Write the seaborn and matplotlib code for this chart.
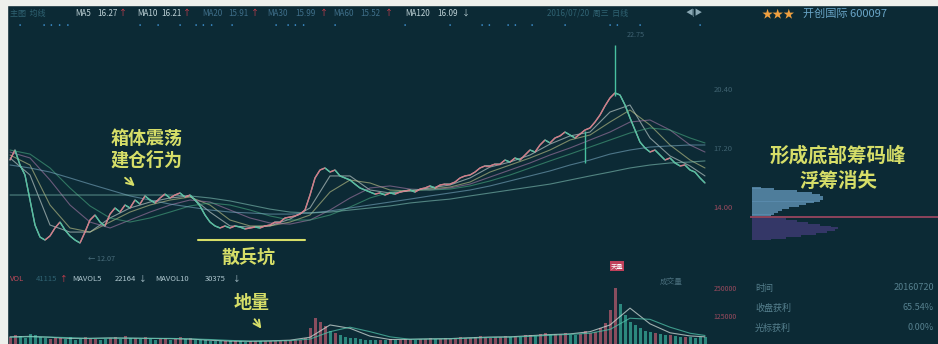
import numpy as np
import pandas as pd
import matplotlib
matplotlib.use("Agg")
import matplotlib.pyplot as plt
import seaborn as sns
from matplotlib.collections import LineCollection
from matplotlib.lines import Line2D
from matplotlib.patches import Rectangle

# ---------------- data ----------------
close = [16.54, 17.08, 16.27, 15.73, 14.38, 13.03, 12.38, 12.22, 12.44, 12.87,
         13.19, 12.76, 12.44, 12.22, 12.06, 12.65, 13.30, 13.57, 13.19, 12.98,
         13.62, 13.95, 13.73, 14.11, 13.95, 14.38, 14.16, 14.60, 14.38, 14.22,
         14.49, 14.70, 14.49, 14.65, 14.76, 14.54, 14.65, 14.38, 14.06, 13.57,
         13.19, 12.98, 12.87, 12.98, 12.87, 12.98, 12.92, 12.82, 12.87, 12.92,
         12.87, 12.98, 13.03, 13.19, 13.19, 13.41, 13.46, 13.52, 13.62, 13.84,
         14.65, 15.57, 16.00, 16.11, 15.89, 16.00, 15.68, 15.57, 15.46, 15.24,
         15.03, 14.92, 14.81, 14.70, 14.76, 14.65, 14.76, 14.70, 14.81, 14.87,
         14.92, 14.81, 14.97, 15.03, 15.14, 15.03, 15.19, 15.24, 15.24, 15.35,
         15.57, 15.68, 15.73, 15.89, 16.11, 16.22, 16.22, 16.32, 16.32, 16.54,
         16.43, 16.65, 16.54, 16.81, 17.08, 16.97, 17.35, 17.62, 17.46, 17.73,
         17.84, 18.05, 17.89, 17.73, 17.94, 18.16, 18.27, 18.59, 18.97, 19.46,
         19.89, 20.16, 20.05, 19.51, 18.81, 18.16, 17.51, 17.19, 16.97, 17.08,
         16.81, 16.54, 16.65, 16.38, 16.22, 16.27, 16.00, 15.89, 15.57, 15.30]
days = list(range(len(close)))

ma_days = list(range(0, 137, 4)) + [139]
ma5 = [16.65, 15.73, 13.03, 12.65, 12.65, 13.41, 13.95, 14.27, 14.49, 14.60,
       13.73, 12.98, 12.92, 12.98, 13.35, 13.95, 15.68, 15.68, 14.92, 14.76,
       14.87, 15.03, 15.19, 15.57, 16.16, 16.43, 16.81, 17.40, 17.84, 18.05,
       19.13, 19.51, 17.73, 16.76, 16.22, 15.68]
ma10 = [16.81, 16.27, 14.11, 12.87, 12.65, 13.19, 13.73, 14.11, 14.38, 14.54,
        14.11, 13.30, 12.98, 12.98, 13.19, 13.57, 14.81, 15.46, 15.30, 14.92,
        14.87, 14.97, 15.08, 15.35, 15.89, 16.27, 16.65, 17.08, 17.62, 17.89,
        18.59, 19.24, 18.43, 17.35, 16.54, 16.11]
ma20 = [16.97, 16.65, 15.46, 14.11, 13.19, 12.87, 13.30, 13.73, 14.11, 14.38,
        14.27, 13.84, 13.41, 13.14, 13.08, 13.30, 13.84, 14.49, 15.03, 15.14,
        14.97, 14.92, 15.03, 15.24, 15.62, 16.00, 16.38, 16.81, 17.19, 17.62,
        18.05, 18.59, 18.70, 18.16, 17.35, 16.97]
ma30 = [17.08, 16.86, 16.11, 15.03, 14.06, 13.41, 13.19, 13.41, 13.73, 14.06,
        14.22, 14.11, 13.84, 13.52, 13.30, 13.30, 13.57, 14.00, 14.49, 14.81,
        14.92, 14.92, 14.97, 15.14, 15.41, 15.73, 16.11, 16.49, 16.86, 17.24,
        17.62, 18.00, 18.27, 18.16, 17.73, 17.46]
ma60 = [16.27, 16.11, 15.89, 15.57, 15.24, 14.92, 14.60, 14.38, 14.16, 14.00,
        13.84, 13.73, 13.68, 13.62, 13.62, 13.68, 13.79, 13.95, 14.11, 14.27,
        14.43, 14.60, 14.76, 14.92, 15.14, 15.41, 15.68, 15.95, 16.27, 16.54,
        16.86, 17.08, 17.24, 17.30, 17.35, 17.35]
ma120 = [14.65, 14.65, 14.65, 14.65, 14.65, 14.65, 14.65, 14.65, 14.65, 14.60,
         14.49, 14.33, 14.11, 13.89, 13.73, 13.68, 13.73, 13.84, 13.95, 14.06,
         14.22, 14.33, 14.43, 14.60, 14.76, 14.92, 15.08, 15.24, 15.46, 15.68,
         15.89, 16.11, 16.27, 16.38, 16.43, 16.49]

wick_days = [115, 121]
wick_lo = [16.40, 20.00]
wick_hi = [18.10, 22.75]

volume = [30000, 42000, 35000, 28000, 45000, 38000, 30000, 26000, 24000, 27000,
          25000, 22000, 30000, 20000, 24000, 32000, 28000, 22000, 20000, 24000,
          26000, 30000, 22000, 34000, 25000, 28000, 22000, 30000, 24000, 20000,
          22000, 28000, 20000, 24000, 30000, 22000, 26000, 20000, 18000, 16000,
          15000, 14000, 13000, 12000, 14000, 12000, 13000, 11000, 12000, 13000,
          12000, 13000, 14000, 15000, 14000, 16000, 18000, 17000, 20000, 28000,
          70000, 115000, 100000, 80000, 60000, 50000, 38000, 32000, 28000, 25000,
          22000, 20000, 18000, 20000, 19000, 18000, 21000, 19000, 20000, 22000,
          21000, 20000, 23000, 22000, 25000, 22000, 24000, 26000, 23000, 25000,
          30000, 28000, 26000, 32000, 35000, 30000, 28000, 33000, 30000, 36000,
          30000, 34000, 32000, 38000, 42000, 36000, 45000, 48000, 40000, 44000,
          46000, 50000, 42000, 40000, 45000, 60000, 50000, 55000, 70000, 95000,
          150000, 250000, 180000, 130000, 100000, 85000, 70000, 60000, 55000, 48000,
          45000, 40000, 38000, 35000, 33000, 30000, 32000, 28000, 30000, 33000]
mavol5 = [32000, 34000, 30000, 25000, 25000, 27000, 26000, 25000, 24000, 22000,
          17000, 13000, 12000, 14000, 17000, 30000, 85000, 70000, 35000, 20000,
          21000, 23000, 24000, 28000, 31000, 32000, 37000, 42000, 45000, 55000,
          85000, 160000, 90000, 50000, 36000, 32000]
mavol10 = [30000, 32000, 31000, 28000, 25000, 26000, 26000, 25000, 25000, 23000,
           20000, 16000, 13000, 13000, 15000, 22000, 55000, 75000, 55000, 32000,
           21000, 22000, 23000, 26000, 29000, 31000, 34000, 39000, 43000, 48000,
           65000, 115000, 110000, 75000, 48000, 38000]

chip_prices = [12.25, 12.35, 12.45, 12.55, 12.65, 12.75, 12.85, 12.95, 13.05, 13.15,
               13.25, 13.35, 13.55, 13.65, 13.75, 13.85, 13.95, 14.05, 14.15, 14.25,
               14.35, 14.45, 14.55, 14.65, 14.75, 14.85, 14.95, 15.05]
chip_amount = [0.10, 0.18, 0.26, 0.34, 0.40, 0.44, 0.46, 0.42, 0.36, 0.30,
               0.24, 0.18, 0.10, 0.12, 0.14, 0.16, 0.20, 0.25, 0.29, 0.33,
               0.36, 0.38, 0.38, 0.36, 0.32, 0.24, 0.12, 0.05]
chip_split = 13.46

price_ticks = [14.00, 17.20, 20.40]
price_tick_labels = ["14.00", "17.20", "20.40"]
vol_ticks = [125000, 250000]
vol_tick_labels = ["125000", "250000"]

header_items = [("主图  均线", "#2f6272"),
                ("MA5", "#c0d4d8"), ("16.27", "#c0d4d8"), ("↑", "#e04050"),
                ("MA10", "#c0d4d8"), ("16.21", "#c0d4d8"), ("↑", "#e04050"),
                ("MA20", "#3f6f8a"), ("15.91", "#3f6f8a"), ("↑", "#e04050"),
                ("MA30", "#3f6f8a"), ("15.99", "#3f6f8a"), ("↑", "#e04050"),
                ("MA60", "#3f6f8a"), ("15.52", "#3f6f8a"), ("↑", "#e04050"),
                ("MA120", "#c0d4d8"), ("16.09", "#c0d4d8"), ("↓", "#c0d4d8")]
header_x = [10, 75, 97, 119, 137, 161, 183, 202, 228, 251, 267, 295, 320, 333, 360, 385, 405, 437, 462]

vol_header = [("VOL", "#c04a5a"), ("41115", "#2f6272"), ("↑", "#e04050"),
              ("MAVOL5", "#b0c8d0"), ("22164", "#b0c8d0"), ("↓", "#b0c8d0"),
              ("MAVOL10", "#b0c8d0"), ("30375", "#b0c8d0"), ("↓", "#b0c8d0")]
vol_header_x = [10, 36, 60, 72, 115, 139, 155, 205, 233]

info_labels = ["时间", "收盘获利", "光标获利"]
info_values = ["20160720", "65.54%", "0.00%"]

# event marker rows (decoration under the header)
dot_groups = [(20, "•"), (56, "••••"), (140, "•"), (158, "•"), (180, "•"),
              (204, "•••"), (232, "•"), (276, "•"), (296, "•••"), (335, "•"),
              (405, "•"), (450, "•"), (486, "••"), (512, "••"), (532, "•"),
              (565, "•"), (614, "••"), (640, "•"), (700, "•")]

# ---------------- style ----------------
W, H = 938, 344
BG = "#0c2a35"
YEL = "#d6de68"
sns.set_theme(style="dark", rc={"axes.facecolor": BG, "figure.facecolor": BG,
                                "axes.edgecolor": BG, "patch.edgecolor": "none"})
plt.rcParams["font.family"] = ["Noto Sans CJK SC", "DejaVu Sans"]
plt.rcParams["axes.unicode_minus"] = False


def box(x0, y0, x1, y1):
    return [x0 / W, 1 - y1 / H, (x1 - x0) / W, (y1 - y0) / H]


def fx(px):
    return px / W


def fy(py):
    return 1 - py / H


fig = plt.figure(figsize=(9.38, 3.44), dpi=100)
fig.patch.set_facecolor(BG)

ax = fig.add_axes(box(8, 22, 748, 268))
axv = fig.add_axes(box(8, 268, 748, 344))
axc = fig.add_axes(box(750, 22, 938, 268))
for a in (ax, axv, axc):
    a.set_facecolor("none")
    for s in a.spines.values():
        s.set_visible(False)
    a.grid(False)

# ---------------- price panel ----------------
ma_colors = {"MA5": "#d0dcd8", "MA10": "#c4c88a", "MA20": "#a87aa8",
             "MA30": "#48a880", "MA60": "#78a8c0", "MA120": "#80c0b4"}
ma_df = pd.DataFrame({
    "day": ma_days * 6,
    "price": ma5 + ma10 + ma20 + ma30 + ma60 + ma120,
    "ma": (["MA5"] * len(ma_days) + ["MA10"] * len(ma_days) + ["MA20"] * len(ma_days)
           + ["MA30"] * len(ma_days) + ["MA60"] * len(ma_days) + ["MA120"] * len(ma_days)),
})
sns.lineplot(data=ma_df, x="day", y="price", hue="ma", palette=ma_colors,
             linewidth=0.8, alpha=0.6, legend=False, ax=ax)

sns.lineplot(x=days, y=close, color="#dfe8e2", linewidth=0.9, alpha=0.8, ax=ax)
pts = np.column_stack([days, close])
segs = np.stack([pts[:-1], pts[1:]], axis=1)
seg_cols = ["#d8707e" if close[i + 1] >= close[i] else "#44c09c" for i in range(len(close) - 1)]
ax.add_collection(LineCollection(segs, colors=seg_cols, linewidths=1.0, alpha=0.85))
ax.vlines(wick_days, wick_lo, wick_hi, color="#48c0a0", linewidth=1.0)

ax.set_xlim(-0.4, 147.6)
ax.set_ylim(10.71, 23.99)
ax.set_xticks([])
ax.yaxis.tick_right()
ax.set_yticks(price_ticks)
ax.set_yticklabels(price_tick_labels)
ax.tick_params(axis="y", direction="in", length=0, pad=-25, labelsize=5.5, colors="#3f6270")
ax.get_yticklabels()[0].set_color("#9a4a5e")
ax.set_xlabel("")
ax.set_ylabel("")

# ---------------- volume panel ----------------
vcols = ["#b45a6c" if (i == 0 or close[i] >= close[i - 1]) else "#38a898" for i in range(len(close))]
axv.bar(days, volume, width=0.6, color=vcols, alpha=0.75, linewidth=0)
vdf = pd.DataFrame({"day": ma_days * 2, "vol": mavol5 + mavol10,
                    "ma": ["MAVOL5"] * len(ma_days) + ["MAVOL10"] * len(ma_days)})
sns.lineplot(data=vdf, x="day", y="vol", hue="ma",
             palette={"MAVOL5": "#d0dcd8", "MAVOL10": "#4fc0a8"},
             linewidth=0.8, alpha=0.75, legend=False, ax=axv)
axv.set_xlim(-0.4, 147.6)
axv.set_ylim(0, 339000)
axv.set_xticks([])
axv.yaxis.tick_right()
axv.set_yticks(vol_ticks)
axv.set_yticklabels(vol_tick_labels)
axv.tick_params(axis="y", direction="in", length=0, pad=-25, labelsize=5.0, colors="#9a4a5e")
axv.set_xlabel("")
axv.set_ylabel("")

# ---------------- chip distribution ----------------
chip_cols = ["#3c3a70" if p < chip_split else "#5a8cae" for p in chip_prices]
axc.barh(chip_prices, chip_amount, height=0.105, color=chip_cols, alpha=0.85,
         left=0.01, linewidth=0, edgecolor="none")
axc.axhline(chip_split, color="#b04a66", linewidth=1.1)
axc.set_xlim(0, 1)
axc.set_ylim(10.71, 23.99)
axc.set_xticks([])
axc.set_yticks([])
axc.set_xlabel("")
axc.set_ylabel("")

# ---------------- header texts ----------------
for (t, c), x in zip(header_items, header_x):
    fig.text(fx(x), fy(13), t, color=c, fontsize=5.8, va="center", ha="left")
fig.text(fx(547), fy(13), "2016/07/20  周三  日线", color="#2f6272", fontsize=5.8, va="center")
fig.text(fx(686), fy(13), "◀|▶", color="#8aa8b4", fontsize=5.5, va="center")
fig.text(fx(762), fy(14), "★★★", color="#f0a040", fontsize=8, va="center")
fig.text(fx(803), fy(14), "开创国际 600097", color="#6aa6c8", fontsize=8, va="center")

for x, s in dot_groups:
    fig.text(fx(x), fy(26), s, color="#3c8cc8", fontsize=6, va="center", ha="center")

for (t, c), x in zip(vol_header, vol_header_x):
    fig.text(fx(x), fy(279), t, color=c, fontsize=5.5, va="center", ha="left")
fig.text(fx(660), fy(282), "成交量", color="#4a6e7c", fontsize=5.5, va="center")
fig.text(fx(617), fy(266), "天量", color="#ffffff", fontsize=4.5, va="center", ha="center",
         bbox=dict(boxstyle="square,pad=0.15", fc="#c0405a", ec="none"))

fig.text(fx(88), fy(259), "← 12.07", color="#4a6e7c", fontsize=5.2, va="center")
fig.text(fx(627), fy(35), "22.75", color="#3f6272", fontsize=5.2, va="center")

for i, (lab, val) in enumerate(zip(info_labels, info_values)):
    fig.text(fx(755), fy(288 + 20 * i), lab, color="#56808e", fontsize=6.5, va="center")
    fig.text(fx(934), fy(288 + 20 * i), val, color="#56808e", fontsize=6.5, va="center", ha="right")

# ---------------- annotations ----------------
ann = dict(color=YEL, fontsize=13, fontweight="bold", ha="center", va="center")
fig.text(fx(147), fy(138), "箱体震荡", **ann)
fig.text(fx(147), fy(160), "建仓行为", **ann)
fig.text(fx(248), fy(257), "散兵坑", **ann)
fig.text(fx(252), fy(303), "地量", **ann)
fig.text(fx(838), fy(156), "形成底部筹码峰", color=YEL, fontsize=14, fontweight="bold", ha="center", va="center")
fig.text(fx(838), fy(181), "浮筹消失", color=YEL, fontsize=14, fontweight="bold", ha="center", va="center")

ax.annotate("", xy=(fx(137), fy(188)), xytext=(fx(123), fy(176)), xycoords="figure fraction",
            textcoords="figure fraction", arrowprops=dict(arrowstyle="->", color=YEL, lw=1.4))
ax.annotate("", xy=(fx(263), fy(331)), xytext=(fx(253), fy(317)), xycoords="figure fraction",
            textcoords="figure fraction", arrowprops=dict(arrowstyle="->", color=YEL, lw=1.4))
fig.add_artist(Line2D([fx(198), fx(305)], [fy(240), fy(240)], color=YEL, lw=1.5,
                      transform=fig.transFigure))

# photo border
fig.add_artist(Rectangle((0, 0), 7 / W, 1, transform=fig.transFigure, color="#eef0ec", zorder=20))
fig.add_artist(Rectangle((0, 1 - 5 / H), 1, 5 / H, transform=fig.transFigure, color="#eef0ec", zorder=20))

fig.savefig("out.png", dpi=100, facecolor=BG)
